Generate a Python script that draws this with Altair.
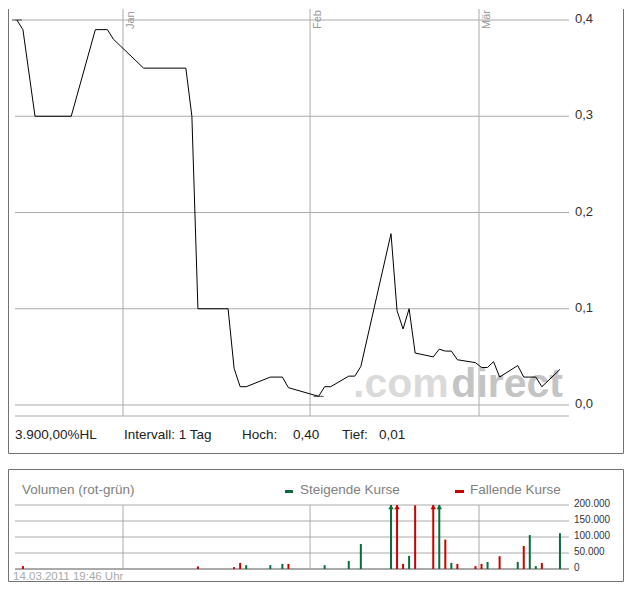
"""Kurs- und Volumenchart im comdirect-Stil (Altair)."""

import altair as alt
import pandas as pd

FONT = "Liberation Sans"
GRID = "#aaaaaa"
FRAME = "#737373"
GREEN = "#0b6b3a"
RED = "#cc0000"

# --- data -------------------------------------------------------------------
kurs_datum = [
    "2010-12-14", "2010-12-15", "2010-12-17", "2010-12-23", "2010-12-27",
    "2010-12-29", "2010-12-30", "2011-01-04", "2011-01-11", "2011-01-12",
    "2011-01-13", "2011-01-18", "2011-01-19", "2011-01-20", "2011-01-21",
    "2011-01-25", "2011-01-27", "2011-01-28", "2011-02-02", "2011-02-03",
    "2011-02-04", "2011-02-07", "2011-02-08", "2011-02-09", "2011-02-14",
    "2011-02-15", "2011-02-16", "2011-02-17", "2011-02-18", "2011-02-21",
    "2011-02-22", "2011-02-23", "2011-02-24", "2011-02-25", "2011-02-28",
    "2011-03-01", "2011-03-02", "2011-03-03", "2011-03-04", "2011-03-07",
    "2011-03-08", "2011-03-09", "2011-03-10", "2011-03-11", "2011-03-14",
]
kurs = [
    0.40, 0.39, 0.30, 0.30, 0.39,
    0.39, 0.38, 0.35, 0.35, 0.30,
    0.10, 0.10, 0.038, 0.019, 0.019,
    0.029, 0.029, 0.018, 0.009, 0.019,
    0.019, 0.030, 0.030, 0.040, 0.178,
    0.098, 0.079, 0.100, 0.054, 0.050,
    0.058, 0.056, 0.056, 0.047, 0.044,
    0.039, 0.039, 0.045, 0.029, 0.041,
    0.029, 0.029, 0.029, 0.019, 0.037,
]

# Hoch / Tief markers
extrem_datum = ["2010-12-14", "2011-02-02"]
extrem_kurs = [0.40, 0.009]

monat_datum = ["2011-01-01", "2011-02-01", "2011-03-01"]
monat_name = ["Jan", "Feb", "Mär"]

vol_datum = [
    "2010-12-15", "2011-01-13", "2011-01-19", "2011-01-20", "2011-01-21",
    "2011-01-25", "2011-01-27", "2011-01-28", "2011-02-03", "2011-02-07",
    "2011-02-09", "2011-02-14", "2011-02-15", "2011-02-16", "2011-02-17",
    "2011-02-18", "2011-02-21", "2011-02-22", "2011-02-23", "2011-02-24",
    "2011-02-25", "2011-02-28", "2011-03-01", "2011-03-02", "2011-03-04",
    "2011-03-07", "2011-03-08", "2011-03-09", "2011-03-10", "2011-03-11",
    "2011-03-14",
]
volumen = [
    9000, 8000, 6000, 19000, 12000,
    12000, 16000, 16000, 12000, 25000,
    78000, 260000, 240000, 16000, 41000,
    199000, 250000, 230000, 92000, 19000,
    16000, 9000, 16000, 22000, 40000,
    22000, 72000, 106000, 9000, 19000,
    112000,
]
richtung = [
    "fallend", "fallend", "fallend", "fallend", "steigend",
    "steigend", "steigend", "fallend", "steigend", "steigend",
    "steigend", "steigend", "fallend", "fallend", "steigend",
    "fallend", "fallend", "steigend", "fallend", "steigend",
    "fallend", "fallend", "fallend", "steigend", "fallend",
    "steigend", "fallend", "steigend", "steigend", "fallend",
    "steigend",
]

kurs_ticks = [0.0, 0.1, 0.2, 0.3, 0.4]
kurs_tick_labels = ["0,0", "0,1", "0,2", "0,3", "0,4"]
vol_ticks = [0, 50000, 100000, 150000, 200000]
vol_tick_labels = ["0", "50.000", "100.000", "150.000", "200.000"]

info_texte = ["3.900,00%HL", "Intervall: 1 Tag", "Hoch:", "0,40", "Tief:", "0,01"]
vol_titel = "Volumen (rot-grün)"
legende = ["Steigende Kurse", "Fallende Kurse"]
zeitstempel = "14.03.2011 19:46 Uhr"


def at_close(days):
    # daily points sit a little after midnight on the time axis
    return pd.to_datetime(days) + pd.Timedelta(hours=10)


price = pd.DataFrame({"t": at_close(kurs_datum), "kurs": kurs})
extremes = pd.DataFrame({"t": at_close(extrem_datum), "kurs": extrem_kurs})
months = pd.DataFrame({"t": pd.to_datetime(monat_datum), "name": monat_name})
vol = pd.DataFrame({"t": at_close(vol_datum), "vol": volumen, "richtung": richtung})
kurs_grid = pd.DataFrame({"v": kurs_ticks, "label": kurs_tick_labels})
vol_grid = pd.DataFrame({"v": vol_ticks, "label": vol_tick_labels})

x_scale = alt.Scale(
    domain=[
        alt.DateTime(year=2010, month=12, date=14, hours=2, minutes=26),
        alt.DateTime(year=2011, month=3, date=15, hours=21, minutes=58),
    ]
)
price_domain = [-0.011429, 0.41143]
y_price = alt.Scale(domain=price_domain, nice=False, zero=False)
y_vol = alt.Scale(domain=[0, 200000], nice=False, clamp=True)
dir_color = alt.Color(
    "richtung:N",
    scale=alt.Scale(domain=["steigend", "fallend"], range=[GREEN, RED]),
    legend=None,
)

X = alt.X("t:T", scale=x_scale, axis=None)


def label(text, x, y, size=13.5, color="#222222", **kw):
    return alt.Chart(pd.DataFrame({"text": [text]})).mark_text(
        align=kw.pop("align", "left"), baseline="alphabetic", font=FONT,
        fontSize=size, color=color, **kw,
    ).encode(text="text:N", x=alt.value(x), y=alt.value(y))


def frame(left, right, top, bottom, with_top=False):
    base = alt.Chart(pd.DataFrame({"k": [0]})).mark_rule(color=FRAME, strokeWidth=1)
    rules = [
        base.encode(x=alt.value(left), y=alt.value(top), y2=alt.value(bottom)),
        base.encode(x=alt.value(right), y=alt.value(top), y2=alt.value(bottom)),
        base.encode(x=alt.value(left), x2=alt.value(right), y=alt.value(bottom)),
    ]
    if with_top:
        rules.append(base.encode(x=alt.value(left), x2=alt.value(right), y=alt.value(top)))
    return rules


def grid(df, scale, tick_size, label_x, width=1):
    hlines = alt.Chart(df).mark_rule(color=GRID, strokeWidth=width).encode(
        y=alt.Y("v:Q", scale=scale, axis=None)
    )
    labels = alt.Chart(df).mark_text(
        align="left", baseline="middle", dy=-1, font=FONT,
        fontSize=tick_size, color="#333333",
    ).encode(
        y=alt.Y("v:Q", scale=scale, axis=None), x=alt.value(label_x), text="label:N"
    )
    vlines = alt.Chart(months).mark_rule(color=GRID).encode(x=X)
    return [hlines, vlines, labels]


# --- price panel ------------------------------------------------------------
price_base = alt.Chart(pd.DataFrame({"k": [0]})).mark_rule(color=GRID).encode(
    y=alt.Y(datum=price_domain[0], type="quantitative", scale=y_price, axis=None)
)

line = alt.Chart(price).mark_line(color="black", strokeWidth=1).encode(
    x=X, y=alt.Y("kurs:Q", scale=y_price, axis=None)
)

marks = alt.Chart(extremes).mark_tick(
    orient="horizontal", size=10, thickness=1, color="black"
).encode(x=X, y=alt.Y("kurs:Q", scale=y_price, axis=None))

month_text = alt.Chart(months).mark_text(
    angle=270, align="left", baseline="top", dx=-9, dy=2, clip=True,
    font=FONT, fontSize=11, color="#999999",
).encode(
    x=X,
    y=alt.Y(datum=kurs_ticks[-1], type="quantitative", scale=y_price, axis=None),
    text="name:N",
)

watermark = [
    label(".com", 338, 388, size=41, color="#dadada", fontWeight="bold"),
    label("direct", 548, 388, size=41, color="#c4c4c4", fontWeight="bold", align="right"),
]

info_x = [0, 109, 227, 278, 327, 364]
info = [label(t, x, 430) for t, x in zip(info_texte, info_x)]

top = alt.layer(
    *grid(kurs_grid, y_price, 13, 560), price_base, *watermark, line, marks,
    month_text, *info, *frame(-6.5, 608.5, 0, 444.5),
).properties(width=554, height=407)

# --- volume panel -----------------------------------------------------------
vol_grid_lines = grid(vol_grid[vol_grid.v > 0], y_vol, 10, 559)
vol_base = alt.Chart(vol_grid[vol_grid.v == 0]).mark_rule(color=GRID, strokeWidth=2).encode(
    y=alt.Y("v:Q", scale=y_vol, axis=None)
)
vol_zero_label = alt.Chart(vol_grid[vol_grid.v == 0]).mark_text(
    align="left", baseline="middle", dy=-1, font=FONT, fontSize=10, color="#333333"
).encode(y=alt.Y("v:Q", scale=y_vol, axis=None), x=alt.value(559), text="label:N")

bars = alt.Chart(vol).mark_rule(strokeWidth=2).encode(
    x=X,
    y=alt.Y("vol:Q", scale=y_vol, axis=None),
    y2=alt.datum(0),
    color=dir_color,
)

arrows = alt.Chart(vol).transform_filter("datum.vol > 200000").mark_point(
    shape="triangle-up", filled=True, size=30, opacity=1, yOffset=2
).encode(
    x=X,
    y=alt.Y(datum=vol_ticks[-1], type="quantitative", scale=y_vol, axis=None),
    color=dir_color,
)

key = alt.Chart(pd.DataFrame({"k": [0]})).mark_rule(strokeWidth=3)
vol_labels = [
    label(vol_titel, 7, -11, color="#808080"),
    key.encode(x=alt.value(270), x2=alt.value(278), y=alt.value(-13.5), color=alt.value(GREEN)),
    label(legende[0], 285, -11, color="#808080"),
    key.encode(x=alt.value(440), x2=alt.value(449), y=alt.value(-13.5), color=alt.value(RED)),
    label(legende[1], 455, -11, color="#808080"),
    label(zeitstempel, -2, 74.5, size=11.5, color="#aaaaaa"),
]

bottom = alt.layer(
    *vol_grid_lines, vol_base, vol_zero_label, bars, arrows, *vol_labels,
    *frame(-6.5, 608.5, -35.5, 76.5, with_top=True),
).properties(width=554, height=64)

chart = (
    alt.vconcat(top, bottom, spacing=15)
    .resolve_scale(x="independent", y="independent", color="independent")
    .properties(padding=0)
    .configure_view(stroke=None)
)

chart.save("out.html", embed_options={"renderer": "svg", "actions": False})
